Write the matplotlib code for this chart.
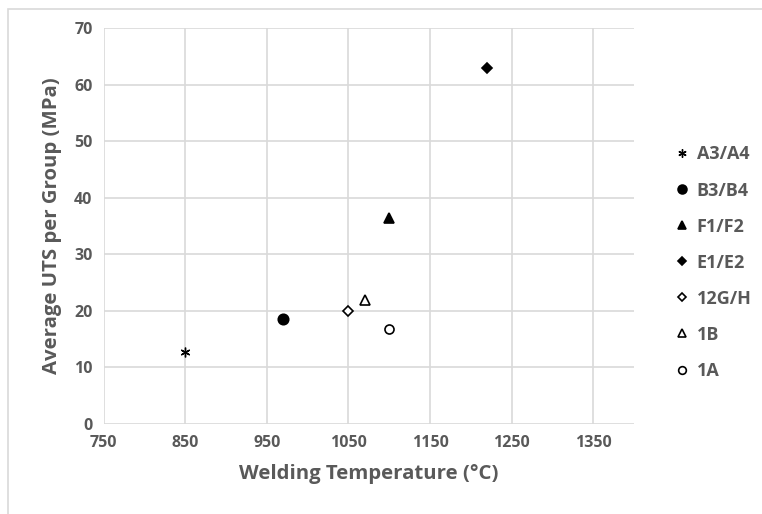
import matplotlib
matplotlib.use("Agg")
import matplotlib.pyplot as plt
from matplotlib.patches import Rectangle

labels = ["A3/A4", "B3/B4", "F1/F2", "E1/E2", "12G/H", "1B", "1A"]
temps = [850, 970, 1100, 1220, 1050, 1070, 1100]
uts = [12.7, 18.5, 36.5, 63.0, 20.0, 22.0, 16.8]
markers = ["x", "o", "^", "D", "D", "^", "o"]
filled = [True, True, True, True, False, False, False]
sizes = [7, 7.5, 7.5, 5, 5, 6.5, 6.5]

xticks = [750, 850, 950, 1050, 1150, 1250, 1350]
yticks = [0, 10, 20, 30, 40, 50, 60, 70]

plt.rcParams['font.family'] = ['Open Sans', 'DejaVu Sans']
gray = '#595959'

fig = plt.figure(figsize=(7.62, 5.14), dpi=100)
ax = fig.add_axes([0.136, 0.175, 0.696, 0.7705])

handles = []
for lab, t, u, m, f, s in zip(labels, temps, uts, markers, filled, sizes):
    if m == "x":
        h, = ax.plot([t], [u], linestyle='none', marker=(6, 2, 0), markersize=s,
                     color='black', markeredgewidth=1.0, label=lab)
    else:
        h, = ax.plot([t], [u], linestyle='none', marker=m, markersize=s,
                     markerfacecolor='black' if f else 'white',
                     markeredgecolor='black', markeredgewidth=1.2, label=lab)
    handles.append(h)

ax.set_xlim(750, 1400)
ax.set_ylim(0, 70)
ax.set_xticks(xticks)
ax.set_yticks(yticks)
ax.grid(True, color='#d9d9d9', linewidth=1.2)
ax.set_axisbelow(True)
for sp in ax.spines.values():
    sp.set_visible(False)
ax.tick_params(length=0, labelsize=11.5, labelcolor=gray, pad=8)
for lbl in ax.get_xticklabels() + ax.get_yticklabels():
    lbl.set_fontweight('bold')
ax.set_xlabel("Welding Temperature (°C)", fontsize=14.7, fontweight='bold', color=gray, labelpad=9)
ax.set_ylabel("Average UTS per Group (MPa)", fontsize=14.7, fontweight='bold', color=gray, labelpad=9)

leg = fig.legend(handles=handles, loc='center left', bbox_to_anchor=(0.867, 0.489),
                 frameon=False, handlelength=0.6, handletextpad=0.5, labelspacing=1.0,
                 markerscale=0.85, prop={'weight': 'bold', 'size': 13})
for t in leg.get_texts():
    t.set_color(gray)

fig.patches.append(Rectangle((0.011, -0.01), 1.0, 0.993, transform=fig.transFigure,
                             fill=False, edgecolor='#d9d9d9', linewidth=1.2))

fig.savefig("out.png", dpi=100)
